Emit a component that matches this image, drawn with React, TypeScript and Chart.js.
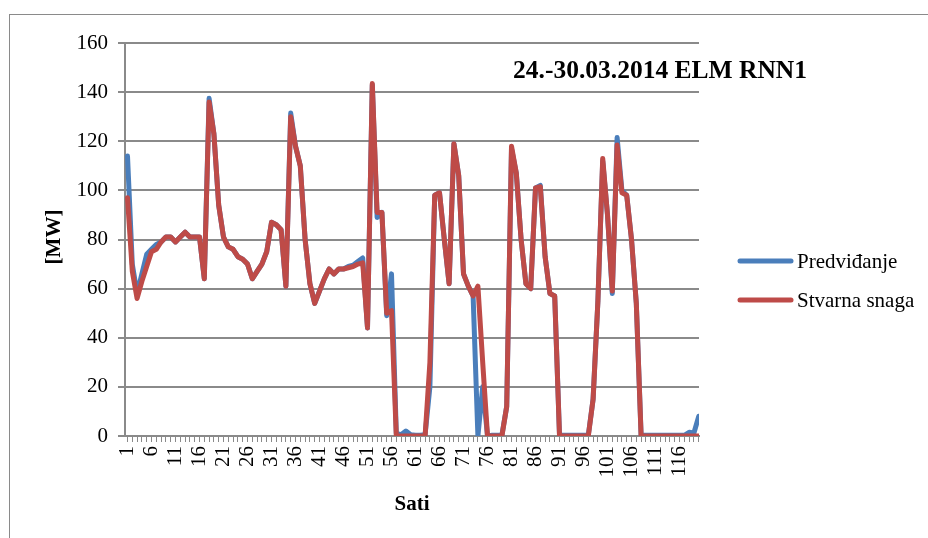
import React, { useEffect, useRef } from 'react';
import { Chart, registerables } from 'chart.js';

Chart.register(...registerables);

// Categories: hours 1..120
const hours: string[] = Array.from({ length: 120 }, (_, i) => String(i + 1));

// Forecast (Predviđanje) [MW]
const predvidjanje: number[] = [
  114, 70, 58, 66, 74, 76, 78, 79, 81, 81,
  79, 81, 83, 81, 81, 81, 64, 137.5, 123, 94,
  81, 77, 76, 73, 72, 70, 64, 67, 70, 75,
  87, 86, 84, 61, 131.5, 118, 110, 80, 62, 54,
  59, 64, 68, 66, 68, 68, 69, 69.5, 71, 72.5,
  44, 143, 89, 91, 49, 66, 1, 0.5, 2, 0.5,
  0.3, 0.3, 0.5, 20, 98, 99, 80, 62, 119, 106,
  66, 61, 57, 0, 20, 0, 0.3, 0.3, 0.3, 12,
  117, 107, 80, 62, 60, 101, 102, 73, 58, 57,
  0.3, 0.3, 0.3, 0.3, 0.3, 0.3, 0.3, 15, 55, 112,
  90, 58, 121.5, 100, 98, 80, 54, 0.3, 0.3, 0.3,
  0.3, 0.3, 0.3, 0.3, 0.3, 0.3, 0.3, 1.5, 1.2, 8,
];

// Actual power (Stvarna snaga) [MW]
const stvarnaSnaga: number[] = [
  97, 67, 56, 63, 69, 75, 76, 79, 81, 81,
  79, 81, 83, 81, 81, 81, 64, 136, 123, 94,
  81, 77, 76, 73, 72, 70, 64, 67, 70, 75,
  87, 86, 84, 61, 130, 118, 110, 80, 62, 54,
  59, 64, 68, 66, 68, 68, 68.5, 69, 70, 70.5,
  44, 143.5, 91, 91, 50, 51, 0, 0, 0, 0,
  0, 0, 0, 30, 98, 99, 80, 62, 119, 106,
  66, 61, 57, 61, 30, 0, 0, 0, 0, 12,
  118, 107, 80, 62, 60, 101, 101.5, 73, 58, 57,
  0, 0, 0, 0, 0, 0, 0, 15, 55, 113,
  90, 59, 118.5, 99, 98, 80, 54, 0, 0, 0,
  0, 0, 0, 0, 0, 0, 0, 0, 0, 0,
];

const seriesNames = ['Predviđanje', 'Stvarna snaga'];
const chartTitle = '24.-30.03.2014 ELM RNN1';
const xTitle = 'Sati';
const yTitle = '[MW]';

const BLUE = '#4A7EBB';
const RED = '#BE4B48';
const GRID = '#8a8a8a';
const FONT = "'Liberation Serif', 'Times New Roman', serif";

const textPlugin = {
  id: 'excelTexts',
  afterDraw(chart: any) {
    const ctx = chart.ctx as CanvasRenderingContext2D;
    ctx.save();
    ctx.fillStyle = '#000';
    // Title
    ctx.font = `bold 25.5px ${FONT}`;
    ctx.textAlign = 'center';
    ctx.textBaseline = 'alphabetic';
    ctx.fillText(chartTitle, 660, 78);
    // X axis title
    ctx.font = `bold 21px ${FONT}`;
    ctx.fillText(xTitle, 412, 510);
    // Y axis title
    ctx.save();
    ctx.translate(55, 237);
    ctx.rotate(-Math.PI / 2);
    ctx.textBaseline = 'middle';
    ctx.fillText(yTitle, 0, 0);
    ctx.restore();
    // Legend
    const items = [
      { label: seriesNames[0], color: BLUE, y: 261 },
      { label: seriesNames[1], color: RED, y: 300 },
    ];
    for (const it of items) {
      ctx.strokeStyle = it.color;
      ctx.lineWidth = 5;
      ctx.lineCap = 'round';
      ctx.beginPath();
      ctx.moveTo(740, it.y);
      ctx.lineTo(791, it.y);
      ctx.stroke();
      ctx.font = `21px ${FONT}`;
      ctx.textAlign = 'left';
      ctx.textBaseline = 'middle';
      ctx.fillStyle = '#000';
      ctx.fillText(it.label, 797, it.y + 1);
    }
    ctx.restore();
  },
};

export default function App() {
  const ref = useRef<HTMLCanvasElement | null>(null);

  useEffect(() => {
    if (!ref.current) return;
    const chart = new Chart(ref.current, {
      type: 'line',
      data: {
        labels: hours,
        datasets: [
          {
            label: seriesNames[1],
            data: stvarnaSnaga,
            borderColor: RED,
            backgroundColor: RED,
            borderWidth: 5,
            pointRadius: 0,
            tension: 0,
            borderJoinStyle: 'round',
            borderCapStyle: 'round',
            order: 1,
          },
          {
            label: seriesNames[0],
            data: predvidjanje,
            borderColor: BLUE,
            backgroundColor: BLUE,
            borderWidth: 5,
            pointRadius: 0,
            tension: 0,
            borderJoinStyle: 'round',
            borderCapStyle: 'round',
            order: 2,
          },
        ],
      },
      options: {
        responsive: false,
        animation: false,
        devicePixelRatio: 1,
        layout: { padding: { left: 0, top: 43, right: 229, bottom: 0 } },
        plugins: {
          legend: { display: false },
          title: { display: false },
          tooltip: { enabled: false },
        },
        scales: {
          x: {
            type: 'linear',
            min: 0.48,
            max: 120.06,
            afterFit: (scale: any) => {
              scale.height = 102;
            },
            afterBuildTicks: (scale: any) => {
              scale.ticks = hours.map((h) => ({ value: Number(h) }));
            },
            grid: {
              display: true,
              drawOnChartArea: false,
              drawTicks: true,
              tickLength: 6,
              color: GRID,
              lineWidth: 1,
            },
            border: { display: true, color: GRID, width: 2 },
            ticks: {
              autoSkip: false,
              maxRotation: 90,
              minRotation: 90,
              padding: 4,
              color: '#000',
              font: { family: FONT, size: 21 },
              callback: (v: any) => (Number(v) % 5 === 1 ? String(v) : ''),
            },
          },
          y: {
            min: 0,
            max: 160,
            afterFit: (scale: any) => {
              scale.width = 125;
            },
            grid: {
              color: GRID,
              lineWidth: 2,
              drawTicks: true,
              tickLength: 7,
            },
            border: { display: true, color: GRID, width: 2 },
            ticks: {
              stepSize: 20,
              padding: 10,
              color: '#000',
              font: { family: FONT, size: 21 },
            },
          },
        },
      },
      plugins: [textPlugin],
    } as any);
    return () => chart.destroy();
  }, []);

  return (
    <div
      style={{
        position: 'fixed',
        left: 0,
        top: 0,
        width: 928,
        height: 538,
        overflow: 'hidden',
        background: '#fff',
      }}
    >
      <div
        style={{
          position: 'absolute',
          left: 9,
          top: 14,
          width: 2000,
          height: 2000,
          border: '1px solid #8a8a8a',
        }}
      />
      <canvas
        ref={ref}
        width={928}
        height={538}
        style={{ position: 'absolute', left: 0, top: 0, width: 928, height: 538 }}
      />
    </div>
  );
}
